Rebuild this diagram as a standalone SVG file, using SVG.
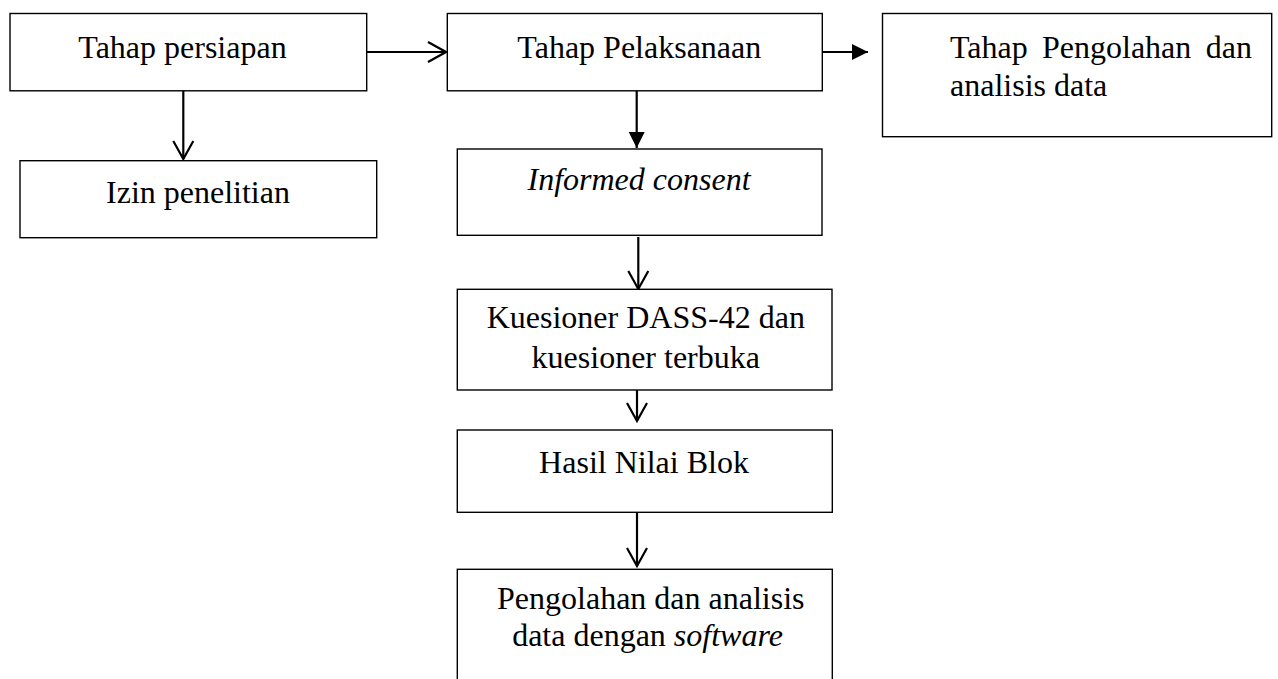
<svg xmlns="http://www.w3.org/2000/svg" width="1278" height="679" viewBox="0 0 1278 679">
<style>
.box{fill:#fff;stroke:#000;stroke-width:1.4}
.t{font-family:"Liberation Serif","Times New Roman",serif;font-size:32px;fill:#000}
.m{text-anchor:middle}
.i{font-style:italic}
.c{stroke:#000;stroke-width:2.2;fill:none}
</style>
<defs>
<marker id="open" markerUnits="userSpaceOnUse" viewBox="-21 -12 23 24" markerWidth="23" markerHeight="24" refX="0" refY="0" orient="auto">
<path d="M -18 -10 L 0 0 L -18 10" fill="none" stroke="#000" stroke-width="2.2"/>
</marker>
<marker id="solid" markerUnits="userSpaceOnUse" viewBox="-17 -9 18 18" markerWidth="18" markerHeight="18" refX="0" refY="0" orient="auto">
<path d="M -16 -8 L 0 0 L -16 8 Z" fill="#000"/>
</marker>
</defs>
<rect width="1278" height="679" fill="#fff"/>
<g id="connectors">
<line class="c" x1="366.7" y1="52" x2="446" y2="52" marker-end="url(#open)"/>
<line class="c" x1="183.3" y1="77" x2="183.3" y2="159" marker-end="url(#open)"/>
<line class="c" x1="822.3" y1="52" x2="868" y2="52" marker-end="url(#solid)"/>
<line class="c" x1="636.7" y1="77" x2="636.7" y2="148" marker-end="url(#solid)"/>
<line class="c" x1="638.3" y1="237" x2="638.3" y2="289" marker-end="url(#open)"/>
<line class="c" x1="637" y1="390" x2="637" y2="421" marker-end="url(#open)"/>
<line class="c" x1="637" y1="512.5" x2="637" y2="566" marker-end="url(#open)"/>
</g>
<g id="node-persiapan">
<rect class="box" x="10" y="13.5" width="356.7" height="77.3"/>
<text class="t m" x="182.5" y="58">Tahap persiapan</text>
</g>
<g id="node-izin">
<rect class="box" x="20" y="160.7" width="356.7" height="77"/>
<text class="t m" x="198" y="203">Izin penelitian</text>
</g>
<g id="node-pelaksanaan">
<rect class="box" x="447.3" y="13.5" width="375" height="77.3"/>
<text class="t m" x="639.3" y="58">Tahap Pelaksanaan</text>
</g>
<g id="node-pengolahan-tahap">
<rect class="box" x="882.5" y="13.5" width="389.2" height="123.2"/>
<text class="t" x="950" y="58">Tahap</text>
<text class="t" x="1042" y="58">Pengolahan</text>
<text class="t" x="1252" y="58" text-anchor="end">dan</text>
<text class="t" x="950" y="96">analisis data</text>
</g>
<g id="node-informed">
<rect class="box" x="457.3" y="149" width="364.7" height="86.3"/>
<text class="t m i" x="639" y="190">Informed consent</text>
</g>
<g id="node-kuesioner">
<rect class="box" x="457.3" y="289.3" width="374.7" height="100.7"/>
<text class="t m" x="645.8" y="328">Kuesioner DASS-42 dan</text>
<text class="t m" x="645.8" y="368">kuesioner terbuka</text>
</g>
<g id="node-hasil">
<rect class="box" x="457.3" y="430" width="375" height="82.3"/>
<text class="t m" x="644" y="473">Hasil Nilai Blok</text>
</g>
<g id="node-pengolahan-software">
<rect class="box" x="457.3" y="569.3" width="375" height="130"/>
<text class="t m" x="650.8" y="609">Pengolahan dan analisis</text>
<text class="t m" x="647.5" y="646">data dengan <tspan class="i">software</tspan></text>
</g>
</svg>
